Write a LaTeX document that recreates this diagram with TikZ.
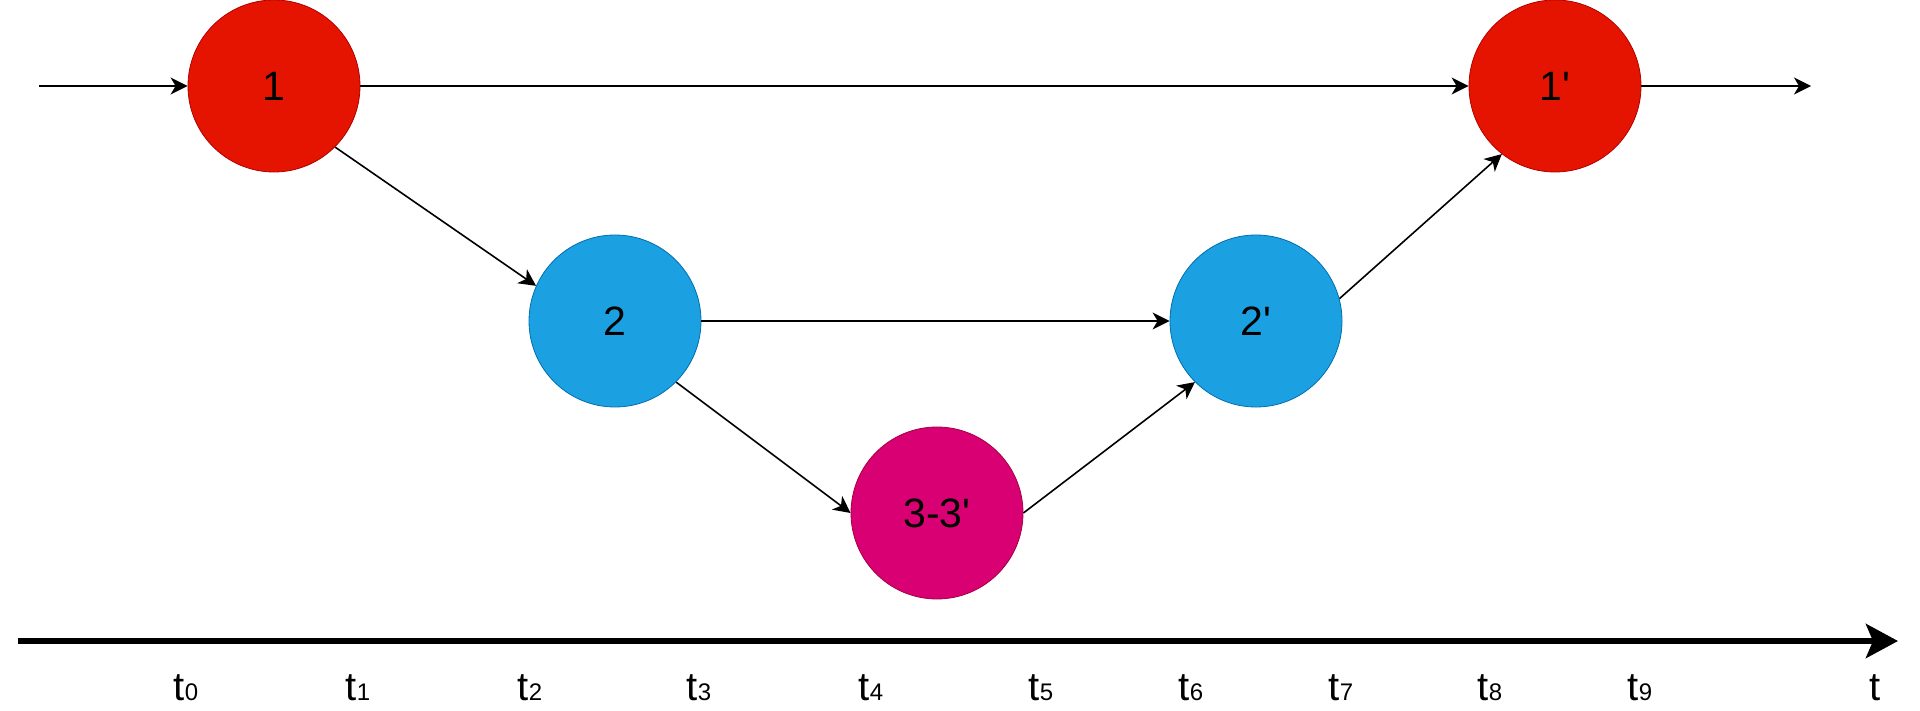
\documentclass[tikz,border=0pt]{standalone}
\usepackage{fontspec}
\setmainfont{Liberation Sans}
\usetikzlibrary{arrows.meta}
\definecolor{cred}{HTML}{E51400}
\definecolor{credd}{HTML}{B20000}
\definecolor{cblue}{HTML}{1BA1E2}
\definecolor{cblued}{HTML}{006EAF}
\definecolor{cmag}{HTML}{D80073}
\definecolor{cmagd}{HTML}{A50040}
\tikzset{
  state/.style={circle, minimum size=172pt, inner sep=0pt, line width=0.8pt,
    font=\fontsize{41pt}{41pt}\selectfont},
  redstate/.style={state, fill=cred, draw=credd},
  bluestate/.style={state, fill=cblue, draw=cblued},
  magstate/.style={state, fill=cmag, draw=cmagd},
  conn/.style={line width=1.6pt, -{Stealth[length=17pt,width=17pt,inset=5pt]}},
  axis/.style={line width=6pt, -{Stealth[length=32pt,width=34pt,inset=7pt]}},
  tlab/.style={anchor=base, inner sep=0pt, font=\fontsize{40pt}{40pt}\selectfont}
}
\newcommand{\tsub}[1]{t{\fontsize{24pt}{24pt}\selectfont #1}}
\newcommand{\prm}{\textquotesingle}
\begin{document}
\begin{tikzpicture}[x=1pt,y=-1pt]
\useasboundingbox (0,0) rectangle (1920,711);
\node[redstate] (n1) at (274,86) {1};
\node[redstate] (n1p) at (1555,86) {1\prm};
\node[bluestate] (n2) at (615,321) {2};
\node[bluestate] (n2p) at (1256,321) {2\prm};
\node[magstate] (n3) at (937,513) {3-3\prm};
\coordinate (in) at (39,86);
\coordinate (out) at (1811,86);
\draw[conn] (in) -- (n1.west);
\draw[conn] (n1p.east) -- (out);
\draw[conn] (n1.east) -- (n1p.west);
\draw[conn] (n1.-45) -- (n2.156);
\draw[conn] (n2.east) -- (n2p.west);
\draw[conn] (n2.-45) -- (n3.west);
\draw[conn] (n3.east) -- (n2p.225);
\draw[conn] (n2p.15) -- (n1p.232);
\coordinate (a0) at (18,641);
\coordinate (a1) at (1898,641);
\draw[axis] (a0) -- (a1);
\node[tlab] (l0) at (186,700) {\tsub{0}};
\node[tlab] (l1) at (358,700) {\tsub{1}};
\node[tlab] (l2) at (530,700) {\tsub{2}};
\node[tlab] (l3) at (699,700) {\tsub{3}};
\node[tlab] (l4) at (871,700) {\tsub{4}};
\node[tlab] (l5) at (1041,700) {\tsub{5}};
\node[tlab] (l6) at (1191,700) {\tsub{6}};
\node[tlab] (l7) at (1341,700) {\tsub{7}};
\node[tlab] (l8) at (1490,700) {\tsub{8}};
\node[tlab] (l9) at (1640,700) {\tsub{9}};
\node[tlab] (lt) at (1875,700) {t};
\end{tikzpicture}
\end{document}
